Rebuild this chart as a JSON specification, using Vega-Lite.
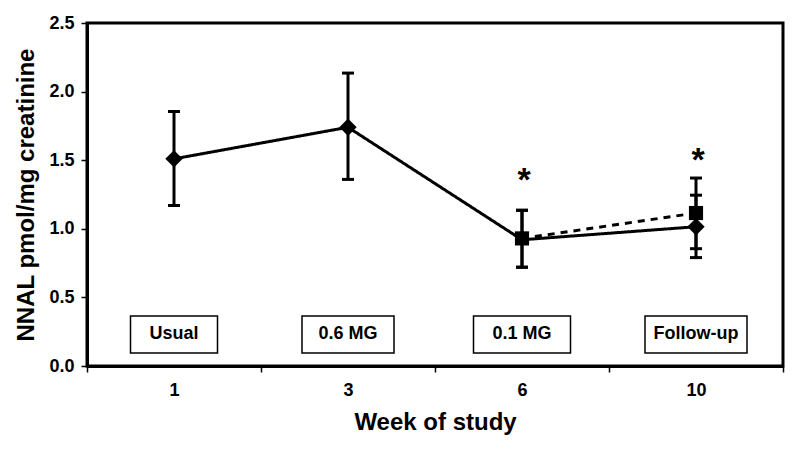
{
  "$schema": "https://vega.github.io/schema/vega-lite/v6.json",
  "width": 696,
  "height": 343,
  "autosize": {"type": "none"},
  "padding": {"left": 87, "top": 23, "right": 17, "bottom": 84},
  "background": "white",
  "view": {"stroke": "black", "strokeWidth": 3, "fill": "white"},
  "config": {
    "view": {"stroke": "black", "strokeWidth": 3},
    "scale": {"continuousPadding": 0},
    "font": "Liberation Sans",
    "axis": {
      "domainColor": "black",
      "domainWidth": 3,
      "tickColor": "black",
      "tickWidth": 1.5,
      "tickSize": 6,
      "labelFont": "Liberation Sans",
      "labelFontWeight": "bold",
      "labelFontSize": 18,
      "labelColor": "black",
      "titleFont": "Liberation Sans",
      "titleFontWeight": "bold",
      "titleFontSize": 24,
      "titleColor": "black",
      "grid": false
    }
  },
  "datasets": {
    "means": [
      {"week": 1, "series": "A", "mean": 1.51, "lo": 1.17, "hi": 1.855},
      {"week": 3, "series": "A", "mean": 1.74, "lo": 1.36, "hi": 2.135},
      {"week": 6, "series": "A", "mean": 0.92, "lo": 0.72, "hi": 1.135},
      {"week": 10, "series": "A", "mean": 1.015, "lo": 0.79, "hi": 1.245},
      {"week": 6, "series": "B", "mean": 0.93, "lo": 0.72, "hi": 1.135},
      {"week": 10, "series": "B", "mean": 1.115, "lo": 0.855, "hi": 1.37}
    ],
    "boxes": [
      {"week": 1, "label": "Usual"},
      {"week": 3, "label": "0.6 MG"},
      {"week": 6, "label": "0.1 MG"},
      {"week": 10, "label": "Follow-up"}
    ],
    "stars": [
      {"week": 6, "star": 1.395},
      {"week": 10, "star": 1.54}
    ]
  },
  "encoding": {
    "x": {
      "field": "week",
      "type": "ordinal",
      "scale": {"paddingInner": 0, "paddingOuter": 0},
      "axis": {"tickBand": "extent", "labelAngle": 0, "labelPadding": 9, "labelFontSize": 18, "labelFontWeight": "bold", "tickSize": 6, "tickWidth": 1.5, "title": "Week of study", "titlePadding": 11}
    }
  },
  "layer": [
    {
      "data": {"name": "boxes"},
      "mark": {"type": "bar", "fill": "white", "stroke": "black", "strokeWidth": 1.5, "opacity": 1},
      "encoding": {
        "y": {"datum": 0.095, "type": "quantitative", "scale": {"domain": [0, 2.5], "nice": false, "zero": true, "padding": 0}, "axis": {"values": [0, 0.5, 1, 1.5, 2, 2.5], "format": ".1f", "labelPadding": 7, "labelFontSize": 18, "labelFontWeight": "bold", "tickSize": 6, "tickWidth": 1.5, "title": "NNAL pmol/mg creatinine", "titlePadding": 10}},
        "y2": {"datum": 0.365},
        "size": {"field": "label", "type": "ordinal", "scale": {"domain": ["Usual", "0.6 MG", "0.1 MG", "Follow-up"], "range": [87, 102, 99, 109]}, "legend": null}
      }
    },
    {
      "data": {"name": "boxes"},
      "mark": {"type": "text", "fontSize": 18, "fontWeight": "bold", "color": "black", "baseline": "middle"},
      "encoding": {
        "y": {"datum": 0.23, "type": "quantitative"},
        "text": {"field": "label"}
      }
    },
    {
      "data": {"name": "means"},
      "mark": {"type": "rule", "color": "black", "strokeWidth": 3, "opacity": 1},
      "encoding": {
        "y": {"field": "lo", "type": "quantitative"},
        "y2": {"field": "hi"}
      }
    },
    {
      "data": {"name": "means"},
      "mark": {"type": "tick", "color": "black", "thickness": 3, "size": 12, "opacity": 1},
      "encoding": {"y": {"field": "lo", "type": "quantitative"}}
    },
    {
      "data": {"name": "means"},
      "mark": {"type": "tick", "color": "black", "thickness": 3, "size": 12, "opacity": 1},
      "encoding": {"y": {"field": "hi", "type": "quantitative"}}
    },
    {
      "data": {"name": "means"},
      "mark": {"type": "line", "color": "black", "strokeWidth": 3, "opacity": 1},
      "encoding": {
        "y": {"field": "mean", "type": "quantitative"},
        "detail": {"field": "series"},
        "strokeDash": {"field": "series", "type": "nominal", "scale": {"domain": ["A", "B"], "range": [[1, 0], [7, 6]]}, "legend": null}
      }
    },
    {
      "data": {"name": "means"},
      "transform": [{"filter": "datum.series === 'B'"}],
      "mark": {"type": "point", "shape": "square", "size": 200, "filled": true, "color": "black", "opacity": 1},
      "encoding": {
        "y": {"field": "mean", "type": "quantitative"}
      }
    },
    {
      "data": {"name": "means"},
      "transform": [{"filter": "datum.series === 'A' && datum.week !== 6"}],
      "mark": {"type": "point", "shape": "diamond", "size": 300, "filled": true, "color": "black", "opacity": 1},
      "encoding": {
        "y": {"field": "mean", "type": "quantitative"}
      }
    },
    {
      "data": {"name": "stars"},
      "mark": {"type": "text", "text": "*", "fontSize": 34, "fontWeight": "bold", "color": "black", "baseline": "middle", "dy": 6, "dx": 2},
      "encoding": {
        "y": {"field": "star", "type": "quantitative"}
      }
    }
  ]
}
